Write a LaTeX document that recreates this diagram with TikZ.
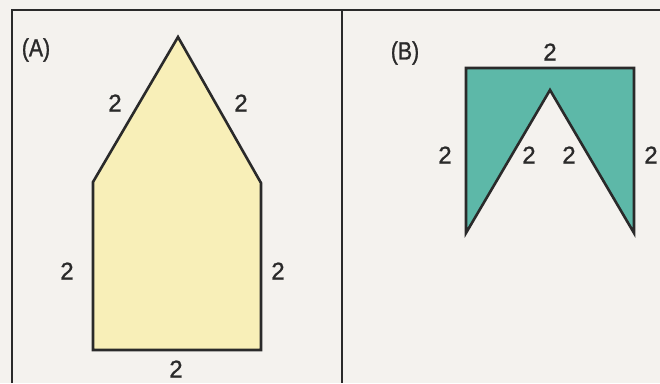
\documentclass[tikz,border=0pt]{standalone}
\usepackage{fontspec}
\setmainfont{Liberation Sans}
\newfontfamily\heavyfont{Liberation Sans}[BoldFont={Liberation Sans},BoldFeatures={FakeBold=1.2}]
\definecolor{bgc}{HTML}{F4F2EE}
\definecolor{yel}{HTML}{F8EFB8}
\definecolor{teal2}{HTML}{5DB8A8}
\definecolor{ink}{HTML}{2A2A2A}
\begin{document}
\begin{tikzpicture}[x=1pt,y=-1pt,
  lbl/.style={font=\heavyfont\bfseries\fontsize{24}{28}\selectfont, text=ink, inner sep=0pt},
  tag/.style={font=\heavyfont\bfseries\fontsize{25}{29}\selectfont, text=ink, inner sep=0pt, xscale=0.85},
  outlined/.style={draw=ink, line width=2.6pt, line join=miter}]
\useasboundingbox (0,0) rectangle (660,383);
\fill[bgc] (0,0) rectangle (660,383);
% frame
\draw[ink, line width=1.4pt] (12,383) -- (12,10) -- (660,10);
\draw[ink, line width=1.4pt] (342,10) -- (342,383);
% shape A
\coordinate (a1) at (178,37);
\coordinate (a2) at (261,183);
\coordinate (a3) at (261,350);
\coordinate (a4) at (93,350);
\coordinate (a5) at (93,182);
\filldraw[outlined, fill=yel] (a1) -- (a2) -- (a3) -- (a4) -- (a5) -- cycle;
\node[tag] (tA) at (36,50) {(A)};
\node[lbl] (la1) at (115,103) {2};
\node[lbl] (la2) at (241,103) {2};
\node[lbl] (la3) at (67,271) {2};
\node[lbl] (la4) at (278,271) {2};
\node[lbl] (la5) at (176,369) {2};
% shape B
\coordinate (b1) at (466,68);
\coordinate (b2) at (634,68);
\coordinate (b3) at (634,233);
\coordinate (b4) at (550,90);
\coordinate (b5) at (466,233);
\filldraw[outlined, fill=teal2] (b1) -- (b2) -- (b3) -- (b4) -- (b5) -- cycle;
\node[tag] (tB) at (405,53) {(B)};
\node[lbl] (lb1) at (550,52) {2};
\node[lbl] (lb2) at (445,155) {2};
\node[lbl] (lb3) at (529,155) {2};
\node[lbl] (lb4) at (569,155) {2};
\node[lbl] (lb5) at (651,155) {2};
\end{tikzpicture}
\end{document}
